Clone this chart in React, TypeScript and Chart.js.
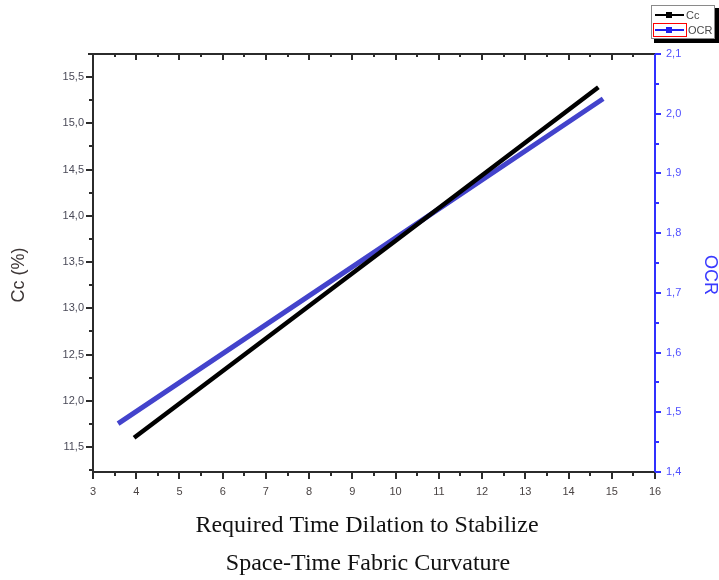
import React, { useEffect, useRef } from 'react';
import { Chart, registerables } from 'chart.js';

Chart.register(...registerables);

// ---- data ----
const ccX = [3.95, 10, 14.69];
const ccY = [11.6, 13.73, 15.39];
const ocrX = [3.58, 10, 14.8];
const ocrY = [1.481, 1.792, 2.025];

const xTicks = [3, 4, 5, 6, 7, 8, 9, 10, 11, 12, 13, 14, 15, 16];
const ccTicks = [11.5, 12.0, 12.5, 13.0, 13.5, 14.0, 14.5, 15.0, 15.5];
const ocrTicks = [1.4, 1.5, 1.6, 1.7, 1.8, 1.9, 2.0, 2.1];

const xTitleLines = ['Required Time Dilation to Stabilize', 'Space-Time Fabric Curvature'];
const ccTitle = 'Cc (%)';
const ocrTitle = 'OCR';
const legendLabels = ['Cc', 'OCR'];

const SANS = "'Liberation Sans', Arial, sans-serif";
const SERIF = "'Liberation Serif', 'Times New Roman', serif";
const CC_COLOR = '#000000';
const OCR_COLOR = '#4343cc';
const AXIS_DARK = '#2b2b2b';
const AXIS_BLUE = '#3030ff';

const comma = (v: number) => v.toFixed(1).replace('.', ',');

const decorPlugin = {
  id: 'decor',
  afterDraw(chart: any) {
    const ctx: CanvasRenderingContext2D = chart.ctx;
    const { left, right, top, bottom } = chart.chartArea;
    const xs = chart.scales.x;
    const ys = chart.scales.y;
    const rs = chart.scales.y1;
    const seg = (x1: number, y1: number, x2: number, y2: number) => {
      ctx.beginPath();
      ctx.moveTo(x1, y1);
      ctx.lineTo(x2, y2);
      ctx.stroke();
    };
    ctx.save();
    ctx.lineCap = 'butt';
    // dark frame: top, bottom, left
    ctx.strokeStyle = AXIS_DARK;
    ctx.lineWidth = 2;
    seg(left - 5, top, right, top);
    seg(left - 1, bottom, right, bottom);
    seg(left, top, left, bottom + 1);
    // x ticks (bottom outward, top inward)
    xTicks.forEach((v, i) => {
      const p = Math.round(xs.getPixelForValue(v));
      seg(p, bottom, p, bottom + 7);
      seg(p, top, p, top + 6);
      if (i < xTicks.length - 1) {
        const m = Math.round(xs.getPixelForValue((v + xTicks[i + 1]) / 2));
        seg(m, bottom, m, bottom + 4);
        seg(m, top, m, top + 3);
      }
    });
    // left ticks
    ccTicks.forEach((v, i) => {
      const p = Math.round(ys.getPixelForValue(v));
      seg(left, p, left - 7, p);
      const below = v - 0.25;
      if (below >= ys.min) {
        const m = Math.round(ys.getPixelForValue(below));
        seg(left, m, left - 4, m);
      }
      if (i === ccTicks.length - 1 && v + 0.25 <= ys.max + 0.01) {
        const m = Math.round(ys.getPixelForValue(v + 0.25));
        seg(left, m, left - 4, m);
      }
    });
    // right blue axis
    ctx.strokeStyle = AXIS_BLUE;
    seg(right, top, right, bottom);
    ocrTicks.forEach((v, i) => {
      const p = Math.round(rs.getPixelForValue(v));
      seg(right, p, right + 6, p);
      if (i < ocrTicks.length - 1) {
        const m = Math.round(rs.getPixelForValue((v + ocrTicks[i + 1]) / 2));
        seg(right, m, right + 4, m);
      }
    });

    // axis titles
    ctx.fillStyle = '#111111';
    ctx.font = `24px ${SERIF}`;
    ctx.textAlign = 'center';
    ctx.textBaseline = 'alphabetic';
    ctx.fillText(xTitleLines[0], 367, 532);
    ctx.fillText(xTitleLines[1], 368, 570);

    ctx.font = `18px ${SANS}`;
    ctx.textBaseline = 'middle';
    ctx.save();
    ctx.translate(19, 275);
    ctx.rotate(-Math.PI / 2);
    ctx.fillStyle = '#3d3636';
    ctx.fillText(ccTitle, 0, 0);
    ctx.restore();

    ctx.save();
    ctx.translate(710, 275);
    ctx.rotate(Math.PI / 2);
    ctx.fillStyle = '#3a3aff';
    ctx.fillText(ocrTitle, 0, 0);
    ctx.restore();

    // legend box with shadow
    const bx = 651, by = 5, bw = 64, bh = 34;
    ctx.fillStyle = '#000000';
    ctx.fillRect(bx + 3, by + bh, bw + 1, 4);
    ctx.fillRect(bx + bw, by + 3, 4, bh + 1);
    ctx.fillStyle = '#ffffff';
    ctx.fillRect(bx, by, bw, bh);
    ctx.strokeStyle = '#8a8a8a';
    ctx.lineWidth = 1;
    ctx.strokeRect(bx + 0.5, by + 0.5, bw - 1, bh - 1);

    const rows = [
      { y: 15, color: CC_COLOR },
      { y: 30, color: '#2020ee' },
    ];
    rows.forEach((r, i) => {
      ctx.strokeStyle = r.color;
      ctx.lineWidth = 2;
      seg(655, r.y, 684, r.y);
      ctx.fillStyle = r.color;
      ctx.fillRect(666, r.y - 3, 6, 6);
      ctx.fillStyle = '#4a4a4a';
      ctx.font = `11px ${SANS}`;
      ctx.textAlign = 'left';
      ctx.textBaseline = 'middle';
      ctx.fillText(legendLabels[i], i === 0 ? 686 : 688, r.y + 1);
    });
    ctx.strokeStyle = '#ff0000';
    ctx.lineWidth = 1;
    ctx.strokeRect(653.5, 23.5, 33, 13);

    ctx.restore();
  },
};

export default function App() {
  const canvasRef = useRef<HTMLCanvasElement | null>(null);

  useEffect(() => {
    const canvas = canvasRef.current;
    if (!canvas) return;
    const chart = new Chart(canvas, {
      type: 'line',
      data: {
        datasets: [
          {
            label: legendLabels[0],
            data: ccX.map((x, i) => ({ x, y: ccY[i] })),
            borderColor: CC_COLOR,
            backgroundColor: CC_COLOR,
            borderWidth: 4.5,
            pointRadius: 0,
            tension: 0,
            yAxisID: 'y',
          },
          {
            label: legendLabels[1],
            data: ocrX.map((x, i) => ({ x, y: ocrY[i] })),
            borderColor: OCR_COLOR,
            backgroundColor: OCR_COLOR,
            borderWidth: 5,
            pointRadius: 0,
            tension: 0,
            yAxisID: 'y1',
          },
        ],
      },
      options: {
        animation: false,
        responsive: false,
        devicePixelRatio: 1,
        layout: { padding: { top: 54, left: 0, right: 0, bottom: 0 } },
        plugins: {
          legend: { display: false },
          tooltip: { enabled: false },
          title: { display: false },
        },
        scales: {
          x: {
            type: 'linear',
            position: 'bottom',
            min: 3,
            max: 16,
            grid: { display: false, drawTicks: false },
            border: { display: false },
            afterBuildTicks: (s: any) => {
              s.ticks = xTicks.map((v) => ({ value: v }));
            },
            afterFit: (s: any) => {
              s.height = 108;
            },
            ticks: {
              padding: 13,
              color: '#4a4444',
              font: { family: SANS, size: 11 },
              callback: (v: any) => String(v),
              maxRotation: 0,
              autoSkip: false,
            },
          },
          y: {
            type: 'linear',
            position: 'left',
            min: 11.23,
            max: 15.75,
            grid: { display: false, drawTicks: false },
            border: { display: false },
            afterBuildTicks: (s: any) => {
              s.ticks = ccTicks.map((v) => ({ value: v }));
            },
            afterFit: (s: any) => {
              s.width = 93;
            },
            ticks: {
              padding: 9,
              color: '#4a4a58',
              font: { family: SANS, size: 11 },
              callback: (v: any) => comma(Number(v)),
              autoSkip: false,
            },
          },
          y1: {
            type: 'linear',
            position: 'right',
            min: 1.4,
            max: 2.1,
            grid: { display: false, drawTicks: false },
            border: { display: false },
            afterBuildTicks: (s: any) => {
              s.ticks = ocrTicks.map((v) => ({ value: v }));
            },
            afterFit: (s: any) => {
              s.width = 64;
            },
            ticks: {
              padding: 11,
              color: '#5050ff',
              font: { family: SANS, size: 11 },
              callback: (v: any) => comma(Number(v)),
              autoSkip: false,
            },
          },
        },
      },
      plugins: [decorPlugin],
    } as any);
    return () => chart.destroy();
  }, []);

  return (
    <div style={{ position: 'absolute', left: 0, top: 0, width: 719, height: 580, background: '#ffffff' }}>
      <canvas ref={canvasRef} width={719} height={580} style={{ display: 'block', width: 719, height: 580 }} />
    </div>
  );
}
